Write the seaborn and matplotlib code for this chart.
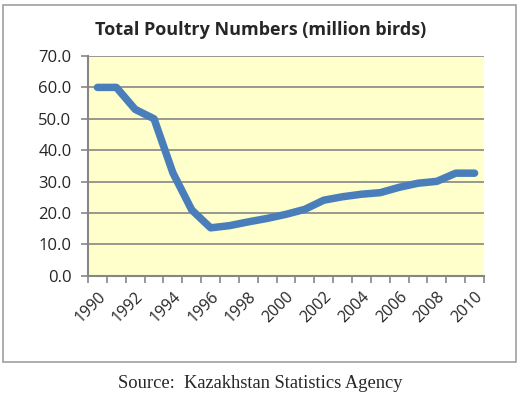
import numpy as np
import pandas as pd
import matplotlib.pyplot as plt
import seaborn as sns
from matplotlib.patches import Rectangle
from matplotlib.ticker import FixedLocator, FormatStrFormatter

# Data
years = list(range(1990, 2011))
poultry = [60.0, 60.0, 53.0, 50.0, 32.8, 21.0, 15.3, 16.0, 17.2, 18.3,
           19.6, 21.2, 24.1, 25.2, 26.0, 26.5, 28.2, 29.5, 30.1, 32.7, 32.7]
label_years = years[::2]

df = pd.DataFrame({"year": years, "birds": poultry})

sns.set_style("white")
plt.rcParams['font.family'] = ['Open Sans', 'DejaVu Sans']

fig = plt.figure(figsize=(5.21, 3.97), dpi=100)
ax = fig.add_axes([0.169, 0.305, 0.76, 0.554])

# outer chart frame
fig.patches.append(Rectangle((3 / 521, 1 - 362 / 397), 513 / 521, 357 / 397,
                             transform=fig.transFigure, fill=False,
                             edgecolor='#a0a0a0', linewidth=1.2))

ax.set_facecolor('#ffffcc')
sns.lineplot(data=df, x="year", y="birds", ax=ax, color='#4a7ebb',
             linewidth=5.4, solid_capstyle='round', solid_joinstyle='round')

ax.set_xlim(1989.5, 2010.5)
ax.set_ylim(0, 70)
ax.set_yticks(np.arange(0, 71, 10))
ax.yaxis.set_major_formatter(FormatStrFormatter('%.1f'))
ax.yaxis.grid(True, color='#868686', linewidth=1.2)
ax.set_axisbelow(True)

ax.set_xticks(label_years)
ax.set_xticklabels([str(y) for y in label_years], rotation=45, ha='right',
                   rotation_mode='anchor')
ax.xaxis.set_minor_locator(FixedLocator(np.arange(1989.5, 2011, 1)))
ax.tick_params(axis='x', which='major', length=0, pad=9, labelsize=11.5)
ax.tick_params(axis='x', which='minor', length=5, width=1.2, color='#868686',
               direction='out', bottom=True)
ax.tick_params(axis='y', length=5, width=1.2, color='#868686', direction='out',
               left=True, labelsize=12, pad=7)

ax.spines['right'].set_visible(False)
ax.spines['top'].set_visible(False)
for side in ['left', 'bottom']:
    ax.spines[side].set_color('#868686')
    ax.spines[side].set_linewidth(1.5)

ax.set_xlabel('')
ax.set_ylabel('')
fig.text(0.5, 1 - 30 / 397, 'Total Poultry Numbers (million birds)',
         ha='center', va='center', fontsize=13, fontweight='bold')

fig.text(0.5, 1 - 384 / 397, 'Source:  Kazakhstan Statistics Agency',
         ha='center', va='center', fontsize=13.3, family='Liberation Serif')

fig.savefig('out.png', dpi=100)
